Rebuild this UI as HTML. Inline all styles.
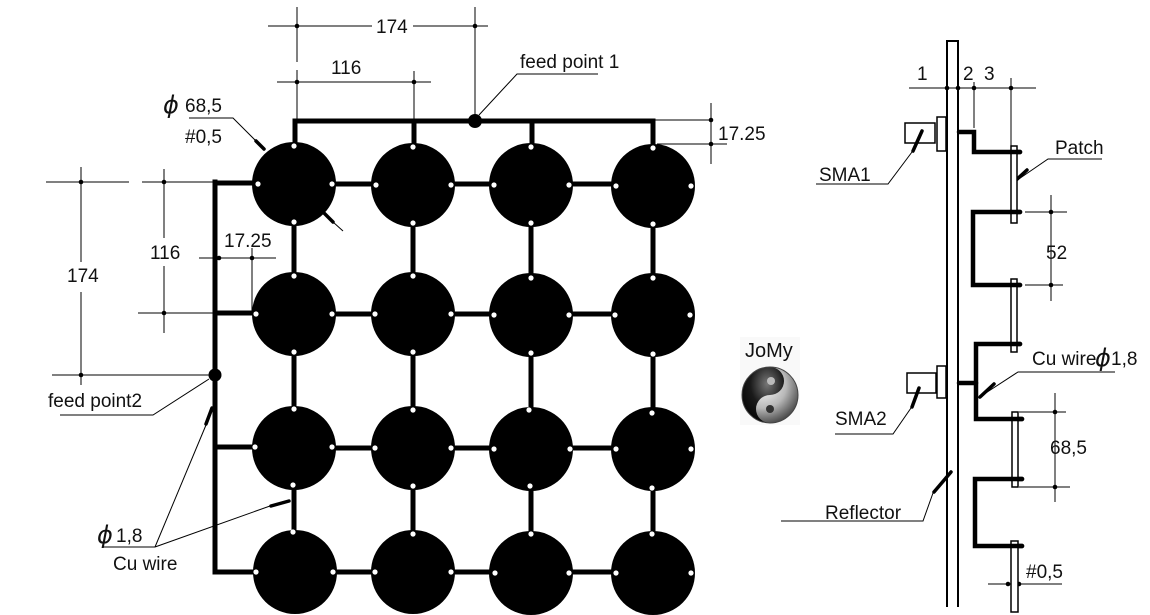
<!DOCTYPE html>
<html><head><meta charset="utf-8"><style>
html,body{margin:0;padding:0;background:#fff;}
svg{display:block;}
text{font-family:"Liberation Sans",Arial,sans-serif;fill:#111;}
.ph{font-family:"DejaVu Sans","Liberation Sans",sans-serif;font-style:oblique;}
</style></head><body>
<svg width="1150" height="615" viewBox="0 0 1150 615" xmlns="http://www.w3.org/2000/svg">
<defs>
<radialGradient id="yg" cx="38%" cy="32%" r="75%">
<stop offset="0" stop-color="#ffffff"/><stop offset="0.55" stop-color="#b8b8b8"/><stop offset="1" stop-color="#3a3a3a"/>
</radialGradient>
<radialGradient id="yd" cx="60%" cy="30%" r="80%">
<stop offset="0" stop-color="#777"/><stop offset="0.5" stop-color="#1a1a1a"/><stop offset="1" stop-color="#000"/>
</radialGradient>
</defs>

<g stroke="#000" stroke-width="1" fill="none">
<line x1="268" y1="26" x2="372" y2="26"/><line x1="413" y1="26" x2="488" y2="26"/>
<line x1="297" y1="7" x2="297" y2="62"/><line x1="297" y1="70" x2="297" y2="121"/>
<line x1="475" y1="7" x2="475" y2="121"/>
<line x1="277" y1="82" x2="431" y2="82"/>
<line x1="414" y1="71" x2="414" y2="121"/>
<polyline points="598,74 517,74 479,115"/>
<line x1="711" y1="103" x2="711" y2="164"/>
<line x1="655" y1="120" x2="713" y2="120"/>
<line x1="657" y1="144" x2="727" y2="144"/>
<polyline points="189,118 233,118 265,150"/>
<line x1="333" y1="222" x2="343" y2="231"/>
<line x1="81" y1="167" x2="81" y2="262"/><line x1="81" y1="292" x2="81" y2="385"/>
<line x1="46" y1="182" x2="129" y2="182"/>
<line x1="52" y1="375" x2="215" y2="375"/>
<line x1="164" y1="169" x2="164" y2="238"/><line x1="164" y1="266" x2="164" y2="333"/>
<line x1="142" y1="182" x2="215" y2="182"/>
<line x1="138" y1="313" x2="215" y2="313"/>
<line x1="199" y1="258" x2="276" y2="258"/>
<line x1="252" y1="248" x2="252" y2="313"/>
<polyline points="60,415 153,415 209,379"/>
<line x1="103" y1="547" x2="155" y2="547"/>
<line x1="155" y1="547" x2="206" y2="425"/>
<line x1="155" y1="547" x2="270" y2="506"/>

<line x1="909" y1="88" x2="1036" y2="88"/>
<line x1="974" y1="82" x2="974" y2="128"/>
<line x1="1011" y1="78" x2="1011" y2="147"/>
<polyline points="816,184 888,184 912,152"/>
<polyline points="1102,159 1048,159 1013,183"/>
<line x1="1051" y1="195" x2="1051" y2="301"/>
<line x1="1025" y1="212" x2="1067" y2="212"/>
<line x1="1025" y1="285" x2="1063" y2="285"/>
<polyline points="1115,372 1018,372 978,398"/>
<polyline points="835,434 893,434 911,408"/>
<line x1="1055" y1="393" x2="1055" y2="502"/>
<line x1="1019" y1="412" x2="1066" y2="412"/>
<line x1="1019" y1="487" x2="1070" y2="487"/>
<polyline points="781,521 923,521 933,493"/>
<line x1="988" y1="584" x2="1062" y2="584"/>
</g>

<g fill="#000">
<circle cx="297" cy="26" r="2.3"/><circle cx="475" cy="26" r="2.3"/>
<circle cx="297" cy="82" r="2.3"/><circle cx="414" cy="82" r="2.3"/>
<circle cx="711" cy="120" r="2.3"/><circle cx="711" cy="144" r="2.3"/>
<circle cx="81" cy="182" r="2.3"/><circle cx="81" cy="375" r="2.3"/>
<circle cx="164" cy="182" r="2.3"/><circle cx="164" cy="313" r="2.3"/>
<circle cx="219" cy="258" r="2.3"/><circle cx="252" cy="258" r="2.3"/>
<circle cx="947" cy="88" r="2.3"/><circle cx="958" cy="88" r="2.3"/>
<circle cx="974" cy="88" r="2.3"/><circle cx="1011" cy="88" r="2.3"/>
<circle cx="1051" cy="212" r="2.3"/><circle cx="1051" cy="285" r="2.3"/>
<circle cx="1055" cy="412" r="2.3"/><circle cx="1055" cy="487" r="2.3"/>
<circle cx="1008" cy="584" r="2.3"/><circle cx="1019" cy="584" r="2.3"/>
</g>

<g stroke="#000" stroke-width="3.5" stroke-linecap="round">
<line x1="256" y1="141" x2="264" y2="149"/>
<line x1="324" y1="213" x2="333" y2="222"/>
<line x1="212" y1="408" x2="206" y2="424"/>
<line x1="271" y1="506" x2="289" y2="501"/>
<line x1="1014" y1="182" x2="1027" y2="170"/>
<line x1="980" y1="397" x2="994" y2="384"/>
<line x1="934" y1="492" x2="951" y2="472"/>
</g>

<g stroke="#000" stroke-width="5" stroke-linecap="square" fill="none">
<line x1="295" y1="121" x2="653" y2="121"/>
<line x1="295" y1="121" x2="295" y2="184"/>
<line x1="414" y1="121" x2="414" y2="184"/>
<line x1="532" y1="121" x2="532" y2="184"/>
<line x1="653" y1="121" x2="653" y2="184"/>
<line x1="215" y1="182" x2="215" y2="572"/>
<line x1="215" y1="183" x2="294" y2="183"/>
<line x1="215" y1="313" x2="294" y2="313"/>
<line x1="215" y1="447" x2="294" y2="447"/>
<line x1="215" y1="572" x2="294" y2="572"/>
<line x1="294" y1="184" x2="653" y2="184"/>
<line x1="294" y1="314" x2="653" y2="314"/>
<line x1="294" y1="448" x2="653" y2="448"/>
<line x1="294" y1="572" x2="653" y2="572"/>
<line x1="294" y1="184" x2="294" y2="572"/>
<line x1="413" y1="184" x2="413" y2="572"/>
<line x1="531" y1="184" x2="531" y2="572"/>
<line x1="653" y1="184" x2="653" y2="572"/>
</g>
<circle cx="475" cy="121" r="7" fill="#000"/>
<circle cx="215" cy="375" r="6.5" fill="#000"/>

<g fill="#000">
<circle cx="294" cy="184" r="42"/><circle cx="413" cy="185" r="42"/><circle cx="531" cy="185" r="42"/><circle cx="653" cy="186" r="42"/>
<circle cx="294" cy="314" r="42"/><circle cx="413" cy="314" r="42"/><circle cx="531" cy="315" r="42"/><circle cx="653" cy="315" r="42"/>
<circle cx="294" cy="448" r="42"/><circle cx="413" cy="448" r="42"/><circle cx="531" cy="449" r="42"/><circle cx="653" cy="449" r="42"/>
<circle cx="295" cy="572" r="42"/><circle cx="413" cy="572" r="42"/><circle cx="531" cy="573" r="42"/><circle cx="653" cy="573" r="42"/>
</g>
<g fill="#fff">
<circle cx="294" cy="146" r="2.6"/><circle cx="294" cy="222" r="2.6"/><circle cx="258" cy="184" r="2.6"/><circle cx="332" cy="184" r="2.6"/>
<circle cx="413" cy="147" r="2.6"/><circle cx="413" cy="223" r="2.6"/><circle cx="376" cy="185" r="2.6"/><circle cx="451" cy="185" r="2.6"/>
<circle cx="531" cy="147" r="2.6"/><circle cx="531" cy="223" r="2.6"/><circle cx="494" cy="185" r="2.6"/><circle cx="569" cy="185" r="2.6"/>
<circle cx="653" cy="148" r="2.6"/><circle cx="653" cy="224" r="2.6"/><circle cx="616" cy="186" r="2.6"/><circle cx="691" cy="186" r="2.6"/>
<circle cx="294" cy="276" r="2.6"/><circle cx="294" cy="352" r="2.6"/><circle cx="256" cy="314" r="2.6"/><circle cx="332" cy="314" r="2.6"/>
<circle cx="413" cy="276" r="2.6"/><circle cx="413" cy="352" r="2.6"/><circle cx="375" cy="314" r="2.6"/><circle cx="451" cy="314" r="2.6"/>
<circle cx="531" cy="278" r="2.6"/><circle cx="531" cy="353" r="2.6"/><circle cx="494" cy="315" r="2.6"/><circle cx="569" cy="315" r="2.6"/>
<circle cx="653" cy="278" r="2.6"/><circle cx="653" cy="354" r="2.6"/><circle cx="615" cy="315" r="2.6"/><circle cx="690" cy="315" r="2.6"/>
<circle cx="294" cy="409" r="2.6"/><circle cx="293" cy="485" r="2.6"/><circle cx="255" cy="447" r="2.6"/><circle cx="332" cy="447" r="2.6"/>
<circle cx="413" cy="410" r="2.6"/><circle cx="413" cy="486" r="2.6"/><circle cx="375" cy="448" r="2.6"/><circle cx="451" cy="448" r="2.6"/>
<circle cx="529" cy="410" r="2.6"/><circle cx="530" cy="486" r="2.6"/><circle cx="494" cy="449" r="2.6"/><circle cx="570" cy="449" r="2.6"/>
<circle cx="652" cy="413" r="2.6"/><circle cx="652" cy="488" r="2.6"/><circle cx="616" cy="449" r="2.6"/><circle cx="691" cy="449" r="2.6"/>
<circle cx="293" cy="532" r="2.6"/><circle cx="256" cy="572" r="2.6"/><circle cx="333" cy="572" r="2.6"/>
<circle cx="413" cy="534" r="2.6"/><circle cx="375" cy="572" r="2.6"/><circle cx="451" cy="572" r="2.6"/>
<circle cx="531" cy="534" r="2.6"/><circle cx="495" cy="573" r="2.6"/><circle cx="569" cy="573" r="2.6"/>
<circle cx="652" cy="534" r="2.6"/><circle cx="616" cy="573" r="2.6"/><circle cx="691" cy="573" r="2.6"/>
</g>

<polyline points="947,607 947,41 958,41 958,607" fill="none" stroke="#000" stroke-width="2"/>

<g stroke="#000" stroke-width="4.5" fill="none" stroke-linecap="round" stroke-linejoin="miter">
<polyline points="959,132 974,132 974,152 1020,152"/>
<polyline points="1020,212 973,212 973,285 1020,285"/>
<polyline points="1020,344 976,344 976,419 1022,419"/>
<line x1="959" y1="383" x2="976" y2="383"/>
<polyline points="1022,479 975,479 975,546 1022,546"/>
</g>
<g fill="#fff" stroke="#000" stroke-width="1.5">
<rect x="1011" y="146" width="6" height="77"/>
<rect x="1011" y="279" width="6" height="73"/>
<rect x="1012" y="412" width="6" height="75"/>
<rect x="1011" y="541" width="7" height="71"/>
</g>
<g stroke="#000" stroke-width="4.5" stroke-linecap="round">
<line x1="1011" y1="152" x2="1020" y2="152"/>
<line x1="1011" y1="212" x2="1020" y2="212"/>
<line x1="1011" y1="285" x2="1020" y2="285"/>
<line x1="1011" y1="344" x2="1020" y2="344"/>
<line x1="1012" y1="419" x2="1022" y2="419"/>
<line x1="1012" y1="479" x2="1022" y2="479"/>
<line x1="1011" y1="546" x2="1022" y2="546"/>
</g>
<g fill="#fff" stroke="#000" stroke-width="1.5">
<rect x="905" y="123" width="30" height="20"/>
<rect x="937" y="117" width="9" height="34"/>
<rect x="907" y="373" width="29" height="20"/>
<rect x="937" y="366" width="9" height="32"/>
</g>
<g stroke="#000" stroke-width="3.5" stroke-linecap="round">
<line x1="922" y1="131" x2="913" y2="151"/>
<line x1="919" y1="388" x2="912" y2="407"/>
</g>

<rect x="740" y="337" width="60" height="88" fill="#f9f9f9"/>
<circle cx="770" cy="395" r="28" fill="url(#yg)"/>
<path d="M770,367 A28,28 0 0 0 770,423 A14,14 0 0 1 770,395 A14,14 0 0 0 770,367 Z" fill="url(#yd)"/>
<circle cx="771" cy="381" r="4" fill="#bbb"/>
<circle cx="770" cy="409" r="4" fill="#333"/>
<circle cx="770" cy="395" r="28" fill="none" stroke="#444" stroke-width="1"/>

<g font-size="19">
<text x="376" y="33">174</text>
<text x="331" y="74">116</text>
<text x="520" y="68">feed point 1</text>
<text x="718" y="140">17.25</text>
<text x="185" y="112">68,5</text>
<text x="185" y="143">#0,5</text>
<text x="67" y="282">174</text>
<text x="150" y="259">116</text>
<text x="224" y="247">17.25</text>
<text x="48" y="407">feed point2</text>
<text x="116" y="542">1,8</text>
<text x="113" y="570">Cu wire</text>
<text x="917" y="80">1</text>
<text x="963" y="80">2</text>
<text x="984" y="80">3</text>
<text x="819" y="181">SMA1</text>
<text x="1055" y="154">Patch</text>
<text x="1046" y="259">52</text>
<text x="1032" y="365">Cu wire</text>
<text x="1111" y="365">1,8</text>
<text x="835" y="425">SMA2</text>
<text x="1050" y="454">68,5</text>
<text x="825" y="519">Reflector</text>
<text x="1026" y="578">#0,5</text>
</g>
<text x="745" y="357" font-size="20">JoMy</text>
<g font-size="24">
<text class="ph" x="163" y="113">ϕ</text>
<text class="ph" x="97" y="543">ϕ</text>
<text class="ph" x="1095" y="366">ϕ</text>
</g>
</svg>
</body></html>
